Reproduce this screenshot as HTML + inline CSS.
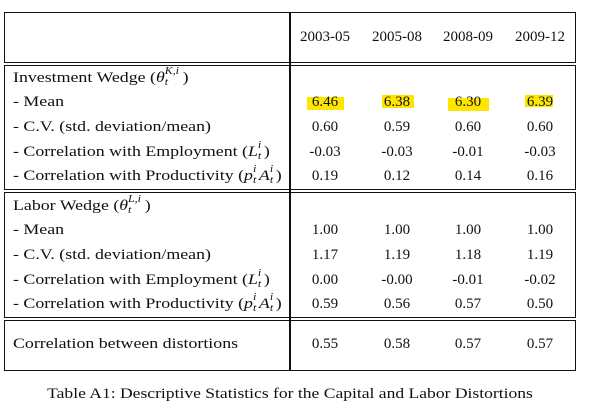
<!DOCTYPE html>
<html><head><meta charset="utf-8">
<style>
body{margin:0;width:594px;height:407px;background:#fff;position:relative;overflow:hidden;font-family:"Liberation Serif",serif;font-size:15px;color:#111}
.box{position:absolute;border:1.5px solid #111;box-sizing:border-box}
.vl{position:absolute;width:1.5px;background:#111}
.t{position:absolute;white-space:nowrap;line-height:16px;transform-origin:0 50%;transform:translateY(-50%) scaleX(1.19)}
.c{position:absolute;white-space:nowrap;line-height:16px;transform:translate(-50%,-50%)}
.cap{transform:translate(-50%,-50%) scaleX(1.17)}
.hl{position:absolute;background:#ffe600}
.ss{display:inline-block;position:relative;width:var(--w,6px);height:16px;vertical-align:top;font-size:10px;font-style:italic}
.ss .sp{position:absolute;left:0;top:-3px;line-height:10px}
.ss .sb{position:absolute;left:0;top:8px;line-height:10px}
i{font-style:italic}
</style></head><body>
<div class="box" style="left:4px;top:12px;width:572px;height:51px"></div>
<div class="box" style="left:4px;top:65px;width:572px;height:125px"></div>
<div class="box" style="left:4px;top:192px;width:572px;height:126px"></div>
<div class="box" style="left:4px;top:320px;width:572px;height:51px"></div>
<div class="vl" style="left:289px;top:12px;height:359px"></div>

<div class="hl" style="left:307px;top:97px;width:37px;height:13px"></div>
<div class="hl" style="left:382px;top:95px;width:32px;height:13px"></div>
<div class="hl" style="left:448px;top:98px;width:41px;height:13px"></div>
<div class="hl" style="left:525px;top:95px;width:28px;height:12px"></div>

<div id="cells"></div>
<div class="c cap" style="left:290px;top:394px">Table A1: Descriptive Statistics for the Capital and Labor Distortions</div>
<script>
const cols=[325,397,468,540];
const headers=["2003-05","2005-08","2008-09","2009-12"];
function ss(sp,sb,w){return "<span class='ss' style='--w:"+w+"px'><span class='sp'>"+sp+"</span><span class='sb'>"+sb+"</span></span>";}
const labels=[
 [78,"Investment Wedge (<i>θ</i>"+ss("K,i","t",15)+")"],
 [102,"- Mean"],[127,"- C.V. (std. deviation/mean)"],
 [152,"- Correlation with Employment (<i>L</i>"+ss("i","t",5)+")"],
 [176,"- Correlation with Productivity (<i>p</i>"+ss("i","t",5)+"<i>A</i>"+ss("i","t",5)+")"],
 [206,"Labor Wedge (<i>θ</i>"+ss("L,i","t",14)+")"],
 [230,"- Mean"],[255,"- C.V. (std. deviation/mean)"],
 [280,"- Correlation with Employment (<i>L</i>"+ss("i","t",5)+")"],
 [304,"- Correlation with Productivity (<i>p</i>"+ss("i","t",5)+"<i>A</i>"+ss("i","t",5)+")"],
 [344,"Correlation between distortions"]];
const values=[
 [102,["6.46","6.38","6.30","6.39"]],
 [127,["0.60","0.59","0.60","0.60"]],
 [152,["-0.03","-0.03","-0.01","-0.03"]],
 [176,["0.19","0.12","0.14","0.16"]],
 [230,["1.00","1.00","1.00","1.00"]],
 [255,["1.17","1.19","1.18","1.19"]],
 [280,["0.00","-0.00","-0.01","-0.02"]],
 [304,["0.59","0.56","0.57","0.50"]],
 [344,["0.55","0.58","0.57","0.57"]]];
const root=document.getElementById('cells');
headers.forEach((h,j)=>{const d=document.createElement('div');d.className='c';d.style.left=cols[j]+'px';d.style.top='37px';d.textContent=h;


root.appendChild(d);});
labels.forEach(([y,l])=>{const d=document.createElement('div');d.className='t';d.style.left='13px';d.style.top=y+'px';d.innerHTML=l;


root.appendChild(d);});
values.forEach(([y,vs])=>vs.forEach((v,j)=>{const d=document.createElement('div');d.className='c';d.style.left=cols[j]+'px';d.style.top=y+'px';d.textContent=v;


root.appendChild(d);}));
</script>
</body></html>
